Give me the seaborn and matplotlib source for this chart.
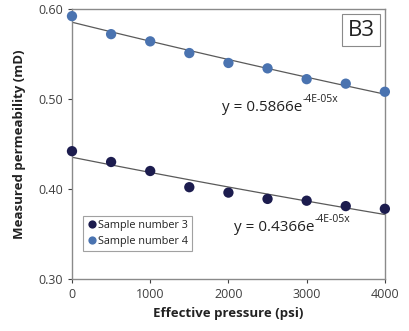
import numpy as np
import pandas as pd
import matplotlib
matplotlib.use("Agg")
import matplotlib.pyplot as plt
import seaborn as sns

pressure = [0, 500, 1000, 1500, 2000, 2500, 3000, 3500, 4000]
sample3 = [0.442, 0.430, 0.420, 0.402, 0.396, 0.389, 0.387, 0.381, 0.378]
sample4 = [0.592, 0.572, 0.564, 0.551, 0.540, 0.534, 0.522, 0.517, 0.508]
series_names = ["Sample number 3", "Sample number 4"]
colors = ["#1c1c4e", "#4a73b0"]
eq_main = ["y = 0.4366e", "y = 0.5866e"]
eq_sup = ["-4E-05x", "-4E-05x"]

sns.set_style("white")
plt.rcParams["font.family"] = ["Open Sans", "DejaVu Sans"]

df = pd.DataFrame({
    "pressure": pressure * 2,
    "perm": sample3 + sample4,
    "series": [series_names[0]] * len(pressure) + [series_names[1]] * len(pressure),
})

fig = plt.figure(figsize=(4.09, 3.31), dpi=100)
ax = fig.add_axes([0.176, 0.157, 0.765, 0.816])

# exponential trendlines fitted to data
xs = np.linspace(0, 4000, 100)
trend_rows = []
for name, vals in zip(series_names, [sample3, sample4]):
    b, lna = np.polyfit(pressure, np.log(vals), 1)
    for xv in xs:
        trend_rows.append({"pressure": xv, "perm": np.exp(lna) * np.exp(b * xv), "series": name})
tdf = pd.DataFrame(trend_rows)
for name in series_names:
    sns.lineplot(data=tdf[tdf.series == name], x="pressure", y="perm", color="#5a5a5a",
                 lw=0.9, ax=ax, legend=False, zorder=2)

sns.scatterplot(data=df, x="pressure", y="perm", hue="series", palette=colors,
                s=55, edgecolor="none", ax=ax, zorder=3, clip_on=False)

ax.set_xlim(0, 4000)
ax.set_ylim(0.30, 0.60)
ax.set_xticks([0, 1000, 2000, 3000, 4000])
ax.set_yticks([0.30, 0.40, 0.50, 0.60])
ax.set_yticklabels(["0.30", "0.40", "0.50", "0.60"])
ax.tick_params(axis="both", labelsize=9, colors="#404040", length=3, direction="out",
               left=True, bottom=True, width=0.8)
for s in ax.spines.values():
    s.set_color("#8a8a8a")
    s.set_linewidth(1.0)
ax.set_xlabel("Effective pressure (psi)", fontsize=9.5, fontweight="bold", color="#222222", labelpad=4)
ax.set_ylabel("Measured permeability (mD)", fontsize=9.5, fontweight="bold", color="#222222", labelpad=9)

leg = ax.legend(loc="lower left", bbox_to_anchor=(0.035, 0.105), fontsize=7.8, frameon=True,
                fancybox=False, edgecolor="#8a8a8a", handletextpad=0.05, borderpad=0.35,
                labelspacing=0.45, markerscale=0.8, handlelength=1.0, borderaxespad=0)
leg.get_frame().set_linewidth(0.8)
for t in leg.get_texts():
    t.set_color("#222222")

pos = [(2070, 0.357), (1917, 0.491)]
for (xp, yp), m, sup in zip(pos, eq_main, eq_sup):
    t = ax.text(xp, yp, m, fontsize=11, color="#222222", va="center")
    ax.annotate(sup, xy=(1.0, 0.66), xycoords=t, fontsize=7.5, color="#222222",
                va="bottom", ha="left")

ax.text(0.968, 0.96, "B3", transform=ax.transAxes, fontsize=16, ha="right", va="top",
        color="#222222",
        bbox=dict(boxstyle="square,pad=0.25", facecolor="white", edgecolor="#8a8a8a", lw=0.8))

fig.savefig("out.png", dpi=100)
